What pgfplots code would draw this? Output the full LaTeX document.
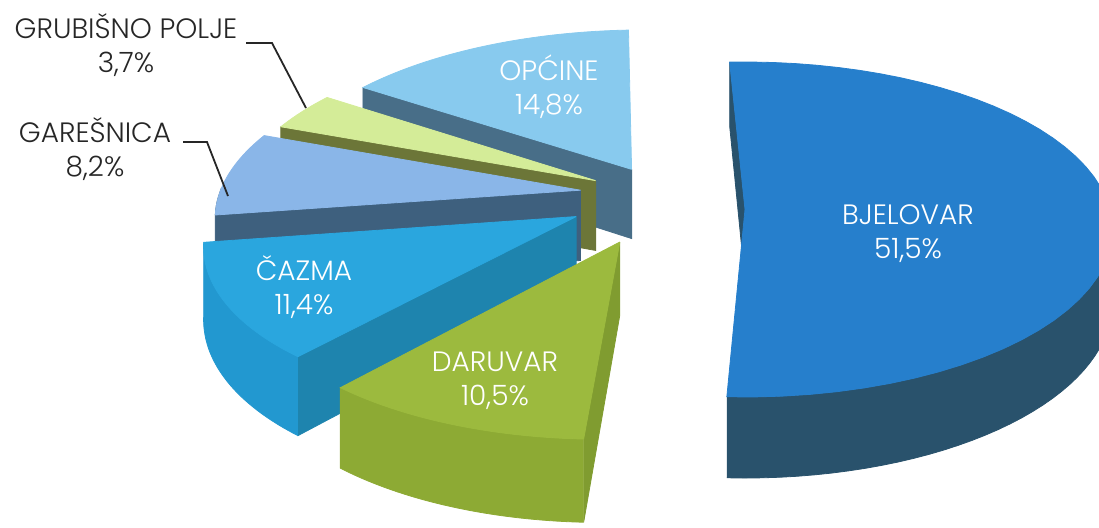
\documentclass[border=0pt]{standalone}
\usepackage{pgfplots}
\pgfplotsset{compat=1.18}
\usepackage{pgfplotstable}
\usepackage{fontspec}
\setmainfont{Poppins Light}

\definecolor{bjT}{RGB}{38,127,204}
\definecolor{bjS}{RGB}{41,82,108}
\definecolor{daT}{RGB}{156,186,62}
\definecolor{daS}{RGB}{141,170,52}
\definecolor{daC}{RGB}{128,156,48}
\definecolor{czT}{RGB}{42,166,222}
\definecolor{czS}{RGB}{34,152,208}
\definecolor{czC}{RGB}{30,132,174}
\definecolor{gaT}{RGB}{138,182,232}
\definecolor{gaS}{RGB}{62,96,126}
\definecolor{gaC}{RGB}{62,96,126}
\definecolor{grT}{RGB}{212,236,152}
\definecolor{grC}{RGB}{108,118,56}
\definecolor{opT}{RGB}{136,202,238}
\definecolor{opC}{RGB}{72,110,136}

% shares of the pie (percent)
\pgfplotstableread{
label value
BJELOVAR 51.5
DARUVAR 10.5
CAZMA 11.4
GARESNICA 8.2
GRUBISNO 3.7
OPCINE 14.8
}\piedata

% projection parameters (perspective view of the tilted pie)
\def\pieX{745}\def\pieY{209.4}\def\pieK{365}\def\pieKS{165.1}\def\pieP{0.12}\def\pieKH{71.3}
\def\startang{92.7}

\pgfplotstablegetrowsof{\piedata}\pgfmathtruncatemacro\nrows{\pgfplotsretval-1}
\gdef\pietotal{0}
\foreach \i in {0,...,\nrows}{\pgfplotstablegetelem{\i}{value}\of\piedata\pgfmathsetmacro\tmpT{\pietotal+\pgfplotsretval}\xdef\pietotal{\tmpT}}
\xdef\piecur{\startang}
\foreach \i in {0,...,\nrows}{\pgfplotstablegetelem{\i}{value}\of\piedata
  \pgfmathsetmacro\tmpE{\piecur-(\pgfplotsretval/\pietotal)*360}%
  \expandafter\xdef\csname angA\i\endcsname{\piecur}%
  \expandafter\xdef\csname angB\i\endcsname{\tmpE}%
  \xdef\piecur{\tmpE}}

\newcommand\proj[3]{%
  \pgfmathsetmacro\pw{1+\pieP*(#2)}%
  \pgfmathsetmacro\px{\pieX+\pieK*(#1)/\pw}%
  \pgfmathsetmacro\py{\pieY-(\pieKS*(#2)-\pieKH*(#3))/\pw}}
\newcommand\rim[4]{%
  \pgfmathsetmacro\ru{(#1)+cos(#3)}\pgfmathsetmacro\rv{(#2)+sin(#3)}\proj{\ru}{\rv}{#4}}
\newcommand\mktop[5]{%
  \proj{#2}{#3}{0}\xdef\myacc{(\px,\py)}\xdef\myfirst{(\px,\py)}%
  \foreach \k in {0,...,48}{%
    \pgfmathsetmacro\tA{(#4)+((#5)-(#4))*\k/48}%
    \rim{#2}{#3}{\tA}{0}%
    \xdef\myacc{\myacc (\px,\py)}}%
  \expandafter\xdef\csname #1\endcsname{\myacc\myfirst}}
\newcommand\mkside[5]{%
  \xdef\myacc{}%
  \foreach \k in {0,...,40}{\pgfmathsetmacro\tA{(#4)+((#5)-(#4))*\k/40}\rim{#2}{#3}{\tA}{0}\xdef\myacc{\myacc (\px,\py)}}%
  \foreach \k in {0,...,40}{\pgfmathsetmacro\tA{(#5)+((#4)-(#5))*\k/40}\rim{#2}{#3}{\tA}{1}\xdef\myacc{\myacc (\px,\py)}}%
  \expandafter\xdef\csname #1\endcsname{\myacc}}
\newcommand\mkcut[4]{%
  \proj{#2}{#3}{0}\edef\qA{(\px,\py)}%
  \rim{#2}{#3}{#4}{0}\edef\qB{(\px,\py)}%
  \rim{#2}{#3}{#4}{1}\edef\qC{(\px,\py)}%
  \proj{#2}{#3}{1}\edef\qD{(\px,\py)}%
  \expandafter\xdef\csname #1\endcsname{\qA\qB\qC\qD\qA}}
\def\getang#1{\edef\xa{\csname angA#1\endcsname}\edef\xb{\csname angB#1\endcsname}}

\getang{0}\mktop{topBJ}{0}{0}{\xa}{\xb}\mkside{sideBJ}{0}{0}{\xb}{5}\mkcut{cutBJ}{0}{0}{\xa}
\getang{1}\mktop{topDA}{-0.335}{-0.193}{\xa}{\xb}\mkside{sideDA}{-0.335}{-0.193}{\xa}{\xb}\mkcut{cutDA}{-0.335}{-0.193}{\xa}
\getang{2}\mktop{topCZ}{-0.46}{-0.043}{\xa}{\xb}\mkside{sideCZ}{-0.46}{-0.043}{\xa}{\xb}\mkcut{cutCZ}{-0.46}{-0.043}{\xa}
\getang{3}\mktop{topGA}{-0.457}{0.118}{\xa}{\xb}\mkside{sideGA}{-0.457}{0.118}{\xa}{-180}\mkcut{cutGA}{-0.457}{0.118}{\xa}
\getang{4}\mktop{topGR}{-0.418}{0.178}{\xa}{\xb}\mkcut{cutGR}{-0.418}{0.178}{\xa}
\getang{5}\mktop{topOP}{-0.32}{0.25}{\xa}{\xb}\mkcut{cutOP}{-0.32}{0.25}{\xa}

\newcommand\face[2]{\edef\tmpF{\noexpand\addplot[fill=#1,draw=#1,line width=0.4pt,forget plot] coordinates {\csname #2\endcsname};}\tmpF}
\newcommand\lbl{\fontsize{14}{17}\selectfont}

\begin{document}
\begin{tikzpicture}
\begin{axis}[x=0.5pt, y=0.5pt, xmin=0, xmax=1099, ymin=0, ymax=527, y dir=reverse,
  hide axis, scale only axis, clip=true]
\addplot[draw=none, forget plot] coordinates {(0,0) (1099,527)};
% BJELOVAR
\face{bjS}{cutBJ}\face{bjS}{sideBJ}\face{bjT}{topBJ}
% OPCINE
\face{opC}{cutOP}\face{opT}{topOP}
% GRUBISNO POLJE
\face{grC}{cutGR}\face{grT}{topGR}
% GARESNICA
\face{gaC}{cutGA}\face{gaS}{sideGA}\face{gaT}{topGA}
% CAZMA
\face{czC}{cutCZ}\face{czS}{sideCZ}\face{czT}{topCZ}
% DARUVAR
\face{daC}{cutDA}\face{daS}{sideDA}\face{daT}{topDA}

\node[white, align=center, font=\lbl] at (axis cs:908,234) {BJELOVAR\\51,5\%};
\node[white, align=center, font=\lbl] at (axis cs:549,87) {OPĆINE\\14,8\%};
\node[white, align=center, font=\lbl] at (axis cs:304,287) {ČAZMA\\11,4\%};
\node[white, align=center, font=\lbl] at (axis cs:495,381) {DARUVAR\\10,5\%};
\node[black!85, align=center, font=\lbl] at (axis cs:126,45) {GRUBIŠNO POLJE\\3,7\%};
\node[black!85, align=center, font=\lbl] at (axis cs:95,149) {GAREŠNICA\\8,2\%};
\draw[black!85, line width=0.9pt] (axis cs:246,43) -- (axis cs:272,43) -- (axis cs:306,108);
\draw[black!85, line width=0.9pt] (axis cs:183,142) -- (axis cs:207,142) -- (axis cs:228,196);
\end{axis}
\end{tikzpicture}
\end{document}
